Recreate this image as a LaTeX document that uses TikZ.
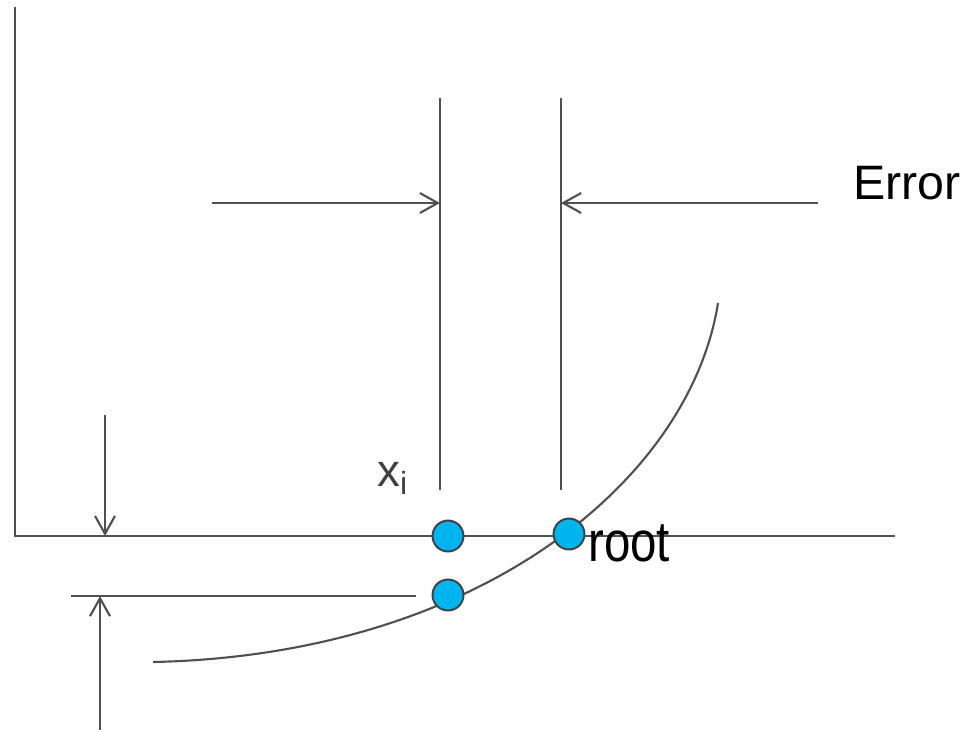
\documentclass[tikz,border=0pt]{standalone}
\usepackage{fontspec}
\setmainfont{Liberation Sans}
\usetikzlibrary{arrows.meta}
\definecolor{linegray}{HTML}{505050}
\definecolor{dotblue}{HTML}{00B4F0}
\definecolor{dotedge}{HTML}{404040}

\begin{document}
\begin{tikzpicture}[x=0.02cm, y=-0.02cm, >={Straight Barb[length=3.6mm,width=4mm]},
    line/.style={draw=linegray, line width=1.2pt},
    pt/.style={circle, draw=dotedge, line width=1.1pt, fill=dotblue, minimum size=0.62cm, inner sep=0pt}]
    \useasboundingbox (0,0) rectangle (966,731);
    % 坐标
    \coordinate (O) at (15,536);
    \coordinate (Ytop) at (15,7);
    \coordinate (Xend) at (895,536);
    \coordinate (La) at (440,98);
    \coordinate (Lb) at (440,490);
    \coordinate (Ra) at (561,98);
    \coordinate (Rb) at (561,490);
    \coordinate (Aleft) at (212,203);
    \coordinate (Aright) at (818,203);
    \coordinate (Dtop) at (105,415);
    \coordinate (Dtip) at (105,536);
    \coordinate (Ubot) at (100,730);
    \coordinate (Utip) at (100,596);
    \coordinate (Hl) at (71,596);
    \coordinate (Hr) at (416,596);
    \coordinate (C0) at (153,662);
    \coordinate (C3) at (718,303);
    % 坐标轴
    \draw[line] (Ytop) -- (O) -- (Xend);
    % 竖线
    \draw[line] (La) -- (Lb);
    \draw[line] (Ra) -- (Rb);
    % 箭头
    \draw[line, ->] (Aleft) -- (La |- Aleft);
    \draw[line, ->] (Aright) -- (Ra |- Aright);
    \draw[line, ->] (Dtop) -- (Dtip);
    \draw[line, ->] (Ubot) -- (Utip);
    \draw[line] (Hl) -- (Hr);
    % 曲线
    \draw[line] (C0) .. controls (480,655) and (690,480) .. (C3);
    % 点
    \node[pt] (P1) at (448,536) {};
    \node[pt] (P2) at (569,534) {};
    \node[pt] (P3) at (448,595) {};
    % 文字
    \node[anchor=base west, inner sep=0pt, font=\fontsize{27.5}{32}\selectfont] (E) at (853,199) {Error};
    \node[anchor=base west, inner sep=0pt, yscale=1.2, font=\fontsize{27}{32}\selectfont] (R) at (588,561) {root};
    \node[anchor=base west, inner sep=0pt, text=dotedge, font=\fontsize{26}{30}\selectfont] (X) at (377,486) {x\textsubscript{i}};
\end{tikzpicture}
\end{document}
